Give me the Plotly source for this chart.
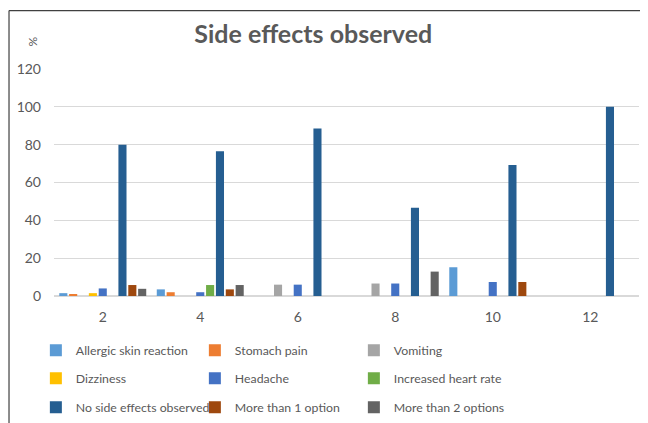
import plotly.graph_objects as go

categories = ["2", "4", "6", "8", "10", "12"]

series_names = [
    "Allergic skin reaction", "Stomach pain", "Vomiting",
    "Dizziness", "Headache", "Increased heart rate",
    "No side effects observed", "More than 1 option", "More than 2 options",
]
allergic = [1.5, 3.5, 0, 0, 15.2, 0]
stomach = [0.6, 2.0, 0, 0, 0, 0]
vomiting = [0, 0, 6.0, 6.6, 0, 0]
dizziness = [1.5, 0, 0, 0, 0, 0]
headache = [4.0, 2.0, 6.0, 6.6, 7.4, 0]
heart_rate = [0, 5.8, 0, 0, 0, 0]
no_effects = [80.0, 76.5, 88.5, 46.6, 69.2, 100.0]
more_than_1 = [5.8, 3.5, 0, 0, 7.4, 0]
more_than_2 = [3.8, 5.8, 0, 12.9, 0, 0]

series_values = [allergic, stomach, vomiting, dizziness, headache, heart_rate,
                 no_effects, more_than_1, more_than_2]
colors = ["#5B9BD5", "#ED7D31", "#A5A5A5", "#FFC000", "#4472C4", "#70AD47",
          "#255E91", "#9E480E", "#636363"]
legend_ids = ["legend", "legend", "legend",
              "legend2", "legend2", "legend2",
              "legend3", "legend3", "legend3"]

FONT = "Lato"
GRAY = "#595959"

fig = go.Figure()
for name, vals, color, leg in zip(series_names, series_values, colors, legend_ids):
    fig.add_trace(go.Bar(x=categories, y=vals, name=name, marker_color=color,
                         marker_line_width=0, legend=leg))

legend_common = dict(orientation="h", x=-0.031, xanchor="left", yanchor="middle",
                     font=dict(family=FONT, size=12.3, color=GRAY),
                     entrywidth=114, entrywidthmode="pixels",
                     bgcolor="rgba(0,0,0,0)", itemclick=False)

# page body adds an 8px offset, so the figure is sized to fit the window
fig.update_layout(
    width=640, height=415,
    margin=dict(l=46, r=9, t=61, b=127, autoexpand=False),
    paper_bgcolor="white", plot_bgcolor="white",
    barmode="group", bargap=0.09, bargroupgap=0.18,
    font=dict(family=FONT, color=GRAY),
    title=dict(text="Side effects observed", x=0.477, xanchor="center",
               y=0.937, yanchor="middle",
               font=dict(family=FONT, size=25, color=GRAY, weight="bold")),
    xaxis=dict(type="category", showgrid=False, showline=False, ticks="",
               tickfont=dict(family=FONT, size=14, color=GRAY),
               ticklabelstandoff=11),
    yaxis=dict(range=[0, 120], dtick=20, showgrid=True, gridcolor="#D9D9D9",
               gridwidth=1, zeroline=True, zerolinecolor="#D9D9D9",
               showline=False, ticks="",
               tickfont=dict(family=FONT, size=14, color=GRAY),
               ticklabelstandoff=12),
    legend=dict(legend_common, y=-0.239),
    legend2=dict(legend_common, y=-0.3625),
    legend3=dict(legend_common, y=-0.49),
    showlegend=True,
)

fig.add_annotation(text="%", xref="paper", yref="paper", x=-0.036, y=1.121,
                   xanchor="center", yanchor="middle",
                   showarrow=False, textangle=-90,
                   font=dict(family=FONT, size=12, color=GRAY))

# chart frame (top and left edges visible in the reference)
fig.add_shape(type="line", xref="paper", yref="paper", x0=-0.0769, x1=1.2,
              y0=1.2575, y1=1.2575, line=dict(color="#404040", width=1.2))
fig.add_shape(type="line", xref="paper", yref="paper", x0=-0.0769, x1=-0.0769,
              y0=-0.7, y1=1.2575, line=dict(color="#404040", width=1.2))

fig.write_html("out.html")
